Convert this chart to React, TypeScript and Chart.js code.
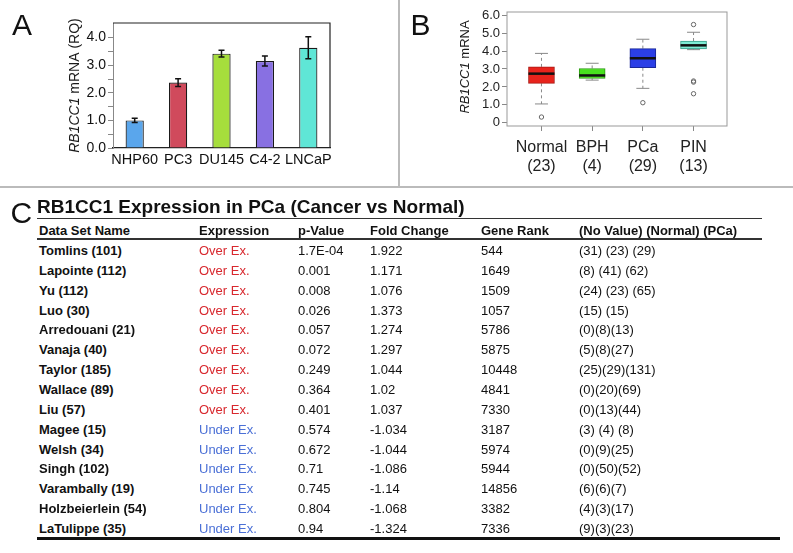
import React, { useEffect, useRef } from "react";
import { Chart, registerables } from "chart.js";
Chart.register(...registerables);

const FONT = '"Liberation Sans", Arial, Helvetica, sans-serif';
Chart.defaults.font.family = FONT;

// ---- Panel A data ----
const cellLines = ["NHP60", "PC3", "DU145", "C4-2", "LNCaP"];
const rqValues = [1.0, 2.37, 3.42, 3.15, 3.63];
const rqErrors = [0.08, 0.14, 0.12, 0.18, 0.4];
const barColorsA = ["#5aa6ec", "#d04a5c", "#a6de3c", "#8870e2", "#5fe6d6"];
const yTicksA = [0, 0.5, 1, 1.5, 2, 2.5, 3, 3.5, 4];

// ---- Panel B data ----
const groupsB = ["Normal", "BPH", "PCa", "PIN"];
const groupN = [23, 4, 29, 13];
const whiskerLow = [1.05, 2.38, 1.92, 4.08];
const q1B = [2.2, 2.47, 3.07, 4.12];
const medianB = [2.74, 2.64, 3.6, 4.32];
const q3B = [3.12, 3.03, 4.14, 4.56];
const whiskerHigh = [3.87, 3.32, 4.66, 5.05];
const outlierGroup = [1, 3, 4, 4, 4, 4];
const outlierValue = [0.32, 1.12, 5.48, 2.33, 2.27, 1.62];
const boxFill = ["#e8231c", "#48e21e", "#2b3fe6", "#7eecd4"];
const boxBorder = ["#a81a14", "#2c9a12", "#1a2898", "#3a9f8a"];
const yTicksB = [0, 1, 2, 3, 4, 5, 6];

// ---- Panel C data ----
const tableTitle = "RB1CC1 Expression in PCa (Cancer vs Normal)";
const headers = ["Data Set Name", "Expression", "p-Value", "Fold Change", "Gene Rank", "(No Value) (Normal) (PCa)"];
const dsNames = ["Tomlins", "Lapointe", "Yu", "Luo", "Arredouani", "Vanaja", "Taylor", "Wallace", "Liu", "Magee", "Welsh", "Singh", "Varambally", "Holzbeierlein", "LaTulippe"];
const dsSizes = [101, 112, 112, 30, 21, 40, 185, 89, 57, 15, 34, 102, 19, 54, 35];
const expressions = ["Over Ex.", "Over Ex.", "Over Ex.", "Over Ex.", "Over Ex.", "Over Ex.", "Over Ex.", "Over Ex.", "Over Ex.", "Under Ex.", "Under Ex.", "Under Ex.", "Under Ex", "Under Ex.", "Under Ex."];
const pValues = ["1.7E-04", "0.001", "0.008", "0.026", "0.057", "0.072", "0.249", "0.364", "0.401", "0.574", "0.672", "0.71", "0.745", "0.804", "0.94"];
const foldChanges = ["1.922", "1.171", "1.076", "1.373", "1.274", "1.297", "1.044", "1.02", "1.037", "-1.034", "-1.044", "-1.086", "-1.14", "-1.068", "-1.324"];
const geneRanks = ["544", "1649", "1509", "1057", "5786", "5875", "10448", "4841", "7330", "3187", "5974", "5944", "14856", "3382", "7336"];
const sampleCounts = ["(31) (23) (29)", "(8) (41) (62)", "(24) (23) (65)", "(15) (15)", "(0)(8)(13)", "(5)(8)(27)", "(25)(29)(131)", "(0)(20)(69)", "(0)(13)(44)", "(3) (4) (8)", "(0)(9)(25)", "(0)(50)(52)", "(6)(6)(7)", "(4)(3)(17)", "(9)(3)(23)"];

function mixedTitle(ctx: CanvasRenderingContext2D, cx: number, cy: number, italic: string, rest: string, size: number) {
  ctx.save();
  ctx.translate(cx, cy);
  ctx.rotate(-Math.PI / 2);
  ctx.fillStyle = "#1a1a1a";
  ctx.textBaseline = "middle";
  ctx.font = `italic ${size}px ${FONT}`;
  const w1 = ctx.measureText(italic).width;
  ctx.font = `${size}px ${FONT}`;
  const w2 = ctx.measureText(rest).width;
  const start = -(w1 + w2) / 2;
  ctx.textAlign = "left";
  ctx.font = `italic ${size}px ${FONT}`;
  ctx.fillText(italic, start, 0);
  ctx.font = `${size}px ${FONT}`;
  ctx.fillText(rest, start + w1, 0);
  ctx.restore();
}

function PanelA() {
  const ref = useRef<HTMLCanvasElement>(null);
  useEffect(() => {
    const errPlugin = {
      id: "errA",
      afterDatasetsDraw(chart: any) {
        const { ctx, chartArea } = chart;
        const ys = chart.scales.y;
        const meta = chart.getDatasetMeta(0);
        ctx.save();
        ctx.strokeStyle = "#111";
        ctx.lineWidth = 1.5;
        meta.data.forEach((bar: any, i: number) => {
          const x = bar.x;
          const yt = ys.getPixelForValue(rqValues[i] + rqErrors[i]);
          const yb = ys.getPixelForValue(rqValues[i] - rqErrors[i]);
          ctx.beginPath();
          ctx.moveTo(x, yt); ctx.lineTo(x, yb);
          ctx.moveTo(x - 3, yt); ctx.lineTo(x + 3, yt);
          ctx.moveTo(x - 3, yb); ctx.lineTo(x + 3, yb);
          ctx.stroke();
        });
        // frame top/right
        ctx.strokeStyle = "#222";
        ctx.lineWidth = 1.2;
        ctx.beginPath();
        ctx.moveTo(chartArea.left, chartArea.top);
        ctx.lineTo(chartArea.right, chartArea.top);
        ctx.lineTo(chartArea.right, chartArea.bottom);
        ctx.stroke();
        ctx.restore();
        mixedTitle(ctx, 75, (chartArea.top + chartArea.bottom) / 2, "RB1CC1", " mRNA (RQ)", 14);
      },
    };
    const chart = new Chart(ref.current!, {
      type: "bar",
      data: {
        labels: cellLines,
        datasets: [{
          data: rqValues,
          backgroundColor: barColorsA,
          borderColor: "#1a1a1a",
          borderWidth: 1.2,
          barPercentage: 0.42,
          categoryPercentage: 1,
        }],
      },
      options: {
        responsive: false,
        animation: false,
        devicePixelRatio: 1,
        layout: { padding: { left: 0, top: 23, right: 69, bottom: 0 } },
        plugins: { legend: { display: false }, tooltip: { enabled: false } },
        scales: {
          x: {
            offset: true,
            grid: { display: false, drawTicks: false },
            border: { display: true, color: "#222", width: 1.2 },
            ticks: { color: "#111", font: { size: 14.5 }, padding: 3, maxRotation: 0, minRotation: 0, autoSkip: false },
            afterFit: (s: any) => { s.height = 39; },
          },
          y: {
            min: 0,
            max: 4.53,
            afterBuildTicks: (s: any) => { s.ticks = yTicksA.map((v) => ({ value: v })); },
            grid: { drawOnChartArea: false, drawTicks: true, tickLength: 5, color: "#888" },
            border: { display: true, color: "#888", width: 1 },
            ticks: {
              color: "#111",
              font: { size: 14 },
              padding: 2,
              autoSkip: false,
              callback: (v: any) => (Number.isInteger(Number(v)) ? Number(v).toFixed(1) : ""),
            },
            afterFit: (s: any) => { s.width = 113; },
          },
        },
      },
      plugins: [errPlugin],
    } as any);
    return () => chart.destroy();
  }, []);
  return <canvas ref={ref} width={399} height={187} style={{ position: "absolute", left: 0, top: 0, width: 399, height: 187 }} />;
}

function PanelB() {
  const ref = useRef<HTMLCanvasElement>(null);
  useEffect(() => {
    const boxPlugin = {
      id: "boxB",
      beforeDatasetsDraw(chart: any) {
        const { ctx } = chart;
        const xs = chart.scales.x;
        const ys = chart.scales.y;
        ctx.save();
        ctx.strokeStyle = "#888";
        ctx.lineWidth = 1;
        groupsB.forEach((_, i) => {
          const x = xs.getPixelForValue(i + 1);
          const yq1 = ys.getPixelForValue(q1B[i]);
          const yq3 = ys.getPixelForValue(q3B[i]);
          const ylo = ys.getPixelForValue(whiskerLow[i]);
          const yhi = ys.getPixelForValue(whiskerHigh[i]);
          ctx.setLineDash([3, 3]);
          ctx.beginPath();
          ctx.moveTo(x, yq3); ctx.lineTo(x, yhi);
          ctx.moveTo(x, yq1); ctx.lineTo(x, ylo);
          ctx.stroke();
          ctx.setLineDash([]);
          ctx.beginPath();
          ctx.moveTo(x - 6.5, yhi); ctx.lineTo(x + 6.5, yhi);
          ctx.moveTo(x - 6.5, ylo); ctx.lineTo(x + 6.5, ylo);
          ctx.stroke();
        });
        ctx.restore();
      },
      afterDatasetsDraw(chart: any) {
        const { ctx, chartArea } = chart;
        const xs = chart.scales.x;
        const ys = chart.scales.y;
        ctx.save();
        ctx.strokeStyle = "#111";
        ctx.lineWidth = 2.5;
        groupsB.forEach((_, i) => {
          const x = xs.getPixelForValue(i + 1);
          const ym = ys.getPixelForValue(medianB[i]);
          ctx.beginPath();
          ctx.moveTo(x - 13, ym); ctx.lineTo(x + 13, ym);
          ctx.stroke();
        });
        ctx.strokeStyle = "#999";
        ctx.lineWidth = 1;
        ctx.strokeRect(chartArea.left, chartArea.top, chartArea.right - chartArea.left, chartArea.bottom - chartArea.top);
        ctx.restore();
        mixedTitle(ctx, 64, (chartArea.top + chartArea.bottom) / 2 - 2, "RB1CC1", " mRNA", 13);
      },
    };
    const chart = new Chart(ref.current!, {
      type: "bar",
      data: {
        datasets: [
          {
            type: "bar",
            data: groupsB.map((_, i) => ({ x: i + 1, y: [q1B[i], q3B[i]] })),
            backgroundColor: boxFill,
            borderColor: boxBorder,
            borderWidth: 1,
            borderSkipped: false,
            barThickness: 26,
          },
          {
            type: "scatter",
            data: outlierGroup.map((g, i) => ({ x: g, y: outlierValue[i] })),
            pointRadius: 2.2,
            pointBorderWidth: 1,
            pointBorderColor: "#666",
            pointBackgroundColor: "rgba(255,255,255,0)",
            showLine: false,
          },
        ],
      },
      options: {
        responsive: false,
        animation: false,
        devicePixelRatio: 1,
        layout: { padding: { left: 0, top: 12, right: 66, bottom: 0 } },
        plugins: { legend: { display: false }, tooltip: { enabled: false } },
        scales: {
          x: {
            type: "linear",
            offset: false,
            min: 0.32,
            max: 4.66,
            afterBuildTicks: (s: any) => { s.ticks = groupsB.map((_, i) => ({ value: i + 1 })); },
            grid: { drawOnChartArea: false, drawTicks: true, tickLength: 5, color: "#888", offset: false },
            border: { display: false },
            ticks: {
              color: "#222",
              font: { size: 16 },
              padding: 7,
              maxRotation: 0,
              minRotation: 0,
              autoSkip: false,
              callback: (v: any) => {
                const i = Math.round(Number(v)) - 1;
                return [groupsB[i], `(${groupN[i]})`];
              },
            },
            afterFit: (s: any) => { s.height = 61; },
          },
          y: {
            min: -0.18,
            max: 6.18,
            afterBuildTicks: (s: any) => { s.ticks = yTicksB.map((v) => ({ value: v })); },
            grid: { drawOnChartArea: false, drawTicks: true, tickLength: 5, color: "#888" },
            border: { display: false },
            ticks: {
              color: "#222",
              font: { size: 13 },
              padding: 2,
              callback: (v: any) => (Number(v) === 0 ? "0" : Number(v).toFixed(1)),
            },
            afterFit: (s: any) => { s.width = 106; },
          },
        },
      },
      plugins: [boxPlugin],
    } as any);
    return () => chart.destroy();
  }, []);
  return <canvas ref={ref} width={392} height={187} style={{ position: "absolute", left: 401, top: 0, width: 392, height: 187 }} />;
}

const colX = [39, 199, 298, 370, 481, 579];

function Cell({ x, y, text, bold, color }: { x: number; y: number; text: string; bold?: boolean; color?: string }) {
  return (
    <div style={{ position: "absolute", left: x, top: y - 10, lineHeight: "20px", fontSize: 13, fontWeight: bold ? "bold" : "normal", color: color || "#111", whiteSpace: "nowrap" }}>
      {text}
    </div>
  );
}

function PanelC() {
  const rowY = (i: number) => 251 + i * 19.86;
  return (
    <>
      <div style={{ position: "absolute", left: 10.5, top: 195, fontSize: 30, lineHeight: "36px", color: "#111" }}>C</div>
      <div style={{ position: "absolute", left: 37, top: 194.5, fontSize: 19, lineHeight: "24px", fontWeight: "bold", color: "#111", whiteSpace: "nowrap" }}>{tableTitle}</div>
      <div style={{ position: "absolute", left: 37, top: 217.5, width: 725, height: 1.5, background: "#333" }} />
      {headers.map((h, j) => (
        <Cell key={"h" + j} x={colX[j]} y={231} text={h} bold />
      ))}
      <div style={{ position: "absolute", left: 37, top: 237.5, width: 725, height: 2, background: "#333" }} />
      {dsNames.map((n, i) => (
        <React.Fragment key={"r" + i}>
          <Cell x={colX[0]} y={rowY(i)} text={`${n} (${dsSizes[i]})`} bold />
          <Cell x={colX[1]} y={rowY(i)} text={expressions[i]} color={expressions[i].startsWith("Over") ? "#d8282e" : "#4b70d6"} />
          <Cell x={colX[2]} y={rowY(i)} text={pValues[i]} />
          <Cell x={colX[3]} y={rowY(i)} text={foldChanges[i]} />
          <Cell x={colX[4]} y={rowY(i)} text={geneRanks[i]} />
          <Cell x={colX[5]} y={rowY(i)} text={sampleCounts[i]} />
        </React.Fragment>
      ))}
      <div style={{ position: "absolute", left: 37, top: 537, width: 743, height: 2.5, background: "#111" }} />
    </>
  );
}

export default function App() {
  return (
    <div style={{ position: "absolute", left: 0, top: 0, width: 793, height: 553, background: "#fff", fontFamily: FONT, overflow: "hidden" }}>
      <PanelA />
      <PanelB />
      <div style={{ position: "absolute", left: 12, top: 6.5, fontSize: 30, lineHeight: "36px", color: "#111" }}>A</div>
      <div style={{ position: "absolute", left: 410.5, top: 6.5, fontSize: 30, lineHeight: "36px", color: "#111" }}>B</div>
      <div style={{ position: "absolute", left: 398, top: 0, width: 2, height: 187, background: "#bbb" }} />
      <div style={{ position: "absolute", left: 0, top: 186, width: 793, height: 2, background: "#bbb" }} />
      <PanelC />
    </div>
  );
}
